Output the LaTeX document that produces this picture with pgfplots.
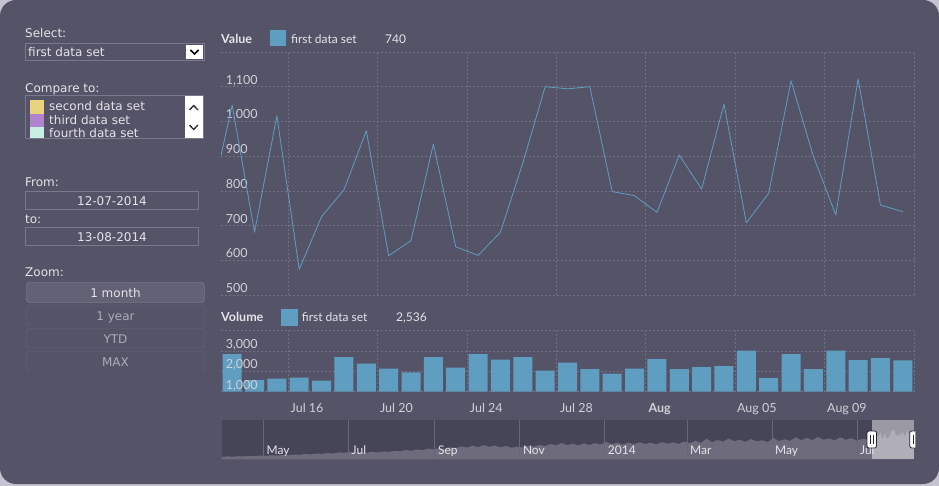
\documentclass[border=0pt]{standalone}
\usepackage{pgfplots}
\pgfplotsset{compat=1.18}
\usepackage{fontspec}
\setmainfont{DejaVu Sans}
\newfontfamily\lato{Lato}
\definecolor{outer}{RGB}{196,195,207}
\definecolor{panel}{RGB}{85,83,103}
\definecolor{series}{RGB}{95,158,192}
\definecolor{gridc}{RGB}{114,112,132}
\definecolor{ticktext}{RGB}{208,208,215}
\definecolor{uitext}{RGB}{228,228,232}
\definecolor{boxline}{RGB}{122,120,140}
\definecolor{btnfill}{RGB}{99,97,117}
\definecolor{btnline}{RGB}{138,136,153}
\definecolor{btnfaint}{RGB}{102,100,120}
\definecolor{btntext}{RGB}{172,172,182}
\definecolor{navbg}{RGB}{70,68,87}
\definecolor{navarea}{RGB}{110,108,124}
\definecolor{navline}{RGB}{104,102,122}
\definecolor{cyellow}{RGB}{234,211,125}
\definecolor{cpurple}{RGB}{178,132,206}
\definecolor{cmint}{RGB}{200,240,226}
\definecolor{handle}{RGB}{40,40,50}

\pgfplotsset{
  chartaxis/.style={
    scale only axis, anchor=south west,
    axis line style={draw=none},
    major tick length=0pt,
    xmajorgrids, ymajorgrids,
    grid style={gridc, dash pattern=on 2pt off 2pt, line width=0.6pt},
    xmin=-0.5, xmax=30.5,
    xtick={2.5,6.5,10.5,14.5,18.5,22.5,26.5,30.5}, xticklabels={},
    yticklabel style={anchor=base west, inner sep=0pt, xshift=4.7pt, yshift=2.5pt,
      font=\lato\fontsize{12.5}{13}\selectfont, text=ticktext},
  },
}

\pgfplotstableread{
x y
-1 757
0 1047
1 681
2 1016
3 574
4 726
5 803
6 973
7 613
8 657
9 935
10 639
11 614
12 681
13 880
14 1100
15 1094
16 1100
17 798
18 786
19 738
20 903
21 805
22 1050
23 708
24 793
25 1117
26 899
27 731
28 1122
29 759
30 740
}\valuedata

\pgfplotstableread{
x y
0 2854
1 1575
2 1640
3 1689
4 1541
5 2705
6 2377
7 2131
8 1951
9 2705
10 2180
11 2854
12 2574
13 2705
14 2033
15 2426
16 2115
17 1885
18 2131
19 2607
20 2115
21 2213
22 2262
23 3017
24 1672
25 2854
26 2115
27 3017
28 2557
29 2656
30 2536
}\volumedata

\pgfplotstableread{
x y
0 2.4
4 2.9
8 2.6
12 3.1
16 2.8
20 3.4
24 3.0
28 3.8
32 3.5
36 4.1
40 3.7
44 4.4
48 4.0
52 4.8
56 4.5
60 5.3
64 4.9
68 5.8
72 5.4
76 6.2
80 5.8
84 6.9
88 6.5
92 7.4
96 6.8
100 7.2
104 6.6
108 7.5
112 6.9
116 7.8
120 7.4
124 8.4
128 7.9
132 9.2
136 8.5
140 9.8
144 9.1
148 10.6
152 9.9
156 11.2
160 10.4
164 12.0
168 11.1
172 12.9
176 11.6
180 13.6
184 12.2
188 14.1
192 12.5
196 13.7
200 11.9
204 13.3
208 11.6
212 12.4
216 11.8
220 13.5
224 12.6
228 14.3
232 13.2
236 15.4
240 13.9
244 16.2
248 14.1
252 15.6
256 13.8
260 15.9
264 14.2
268 16.3
272 14.6
276 17.4
280 15.0
284 16.5
288 14.7
292 16.8
296 15.1
300 17.0
304 15.3
308 16.6
312 14.9
316 17.2
320 15.6
324 16.9
328 15.4
332 17.8
336 16.0
340 18.6
344 16.4
348 20.5
352 17.1
356 19.3
360 17.6
364 20.8
368 18.0
372 19.6
376 17.5
380 20.2
384 17.9
388 19.0
392 17.2
396 21.3
400 18.1
404 20.0
408 18.4
412 22.0
416 19.2
420 21.4
424 19.0
428 22.3
432 19.6
436 20.8
440 18.9
444 22.0
448 19.4
452 21.2
456 18.6
460 20.4
464 19.8
466.1 23.4
467.1 28.2
468.1 22.2
469.0 27.7
470.0 20.4
471.0 22.9
472.0 24.2
473.0 27.0
474.0 21.1
475.0 21.8
476.0 26.3
477.0 21.5
478.0 21.1
479.0 22.2
480.0 25.4
481.0 29.0
482.0 28.9
483.0 29.0
483.9 24.1
484.9 23.9
485.9 23.1
486.9 25.8
487.9 24.2
488.9 28.2
489.9 22.6
490.9 24.0
491.9 29.3
492.9 25.7
493.9 23.0
494.9 29.4
495.9 23.4
496.9 23.1
}\navdata

\begin{document}
\begin{tikzpicture}
% panel
\begin{scope}[x=1pt,y=-1pt]
\fill[outer] (0,0) rectangle (939,486);
\fill[panel, rounded corners=16pt] (0,0) rectangle (939,484);
\end{scope}

% value chart
\begin{axis}[chartaxis, at={(221pt,-295pt)}, width=693pt, height=243pt,
  ymin=500, ymax=1200, ytick={500,600,700,800,900,1000,1100,1200},
  yticklabels={500,600,700,800,900,{1,000},{1,100},{}}]
\addplot[series, line width=0.8pt, line join=round] table[x=x,y=y] {\valuedata};
\end{axis}

% volume chart (grid + bars)
\begin{axis}[chartaxis, at={(221pt,-391.7pt)}, width=693pt, height=61pt,
  ymin=1000, ymax=4000, ytick={1000,2000,3000,4000},
  yticklabels={},
  extra x ticks={3.35,7.35,11.37,15.4,19.12,23.47,27.5},
  extra x tick labels={Jul 16,Jul 20,Jul 24,Jul 28,\textbf{Aug},Aug 05,Aug 09},
  extra x tick style={grid=none},
  xticklabel style={anchor=base, inner sep=0pt, yshift=-20.3pt,
      font=\lato\fontsize{12.5}{13}\selectfont, text=ticktext}]
\addplot[ybar, bar width=0.85, bar shift=0pt, fill=series, draw=none] table[x=x,y=y] {\volumedata};
\end{axis}
% volume chart y labels drawn over the bars
\begin{axis}[chartaxis, at={(221pt,-391.7pt)}, width=693pt, height=61pt,
  xmajorgrids=false, ymajorgrids=false, xtick=\empty,
  ymin=1000, ymax=4000, ytick={1000,2000,3000,4000},
  yticklabels={{1,000},{2,000},{3,000},{}}]
\addplot[draw=none] coordinates {(0,1000)};
\end{axis}

% navigator
\begin{axis}[at={(221.7pt,-459.3pt)}, anchor=south west, scale only axis,
  width=692.3pt, height=39.3pt, xmin=0, xmax=497, ymin=0, ymax=39.3,
  axis line style={draw=none}, major tick length=0pt, ytick=\empty,
  axis background/.style={fill=navbg},
  axis on top,
  xtick={30,91,153,214,275,334,395,456},
  xticklabels={May,Jul,Sep,Nov,2014,Mar,May,Jul},
  xmajorgrids, grid style={navline, line width=0.8pt},
  xticklabel style={anchor=base west, inner sep=0pt, xshift=3pt, yshift=5pt,
     font=\lato\fontsize{12}{13}\selectfont, text=uitext}]
\addplot[fill=navarea, draw=none] table[x=x,y=y] {\navdata} \closedcycle;
\addplot[fill=white, fill opacity=0.46, draw=none] coordinates {(466.6,0) (497,0) (497,39.3) (466.6,39.3)} -- cycle;
\end{axis}

\begin{scope}[x=1pt,y=-1pt, every node/.style={inner sep=0pt, text=uitext, font=\fontsize{12}{14}\selectfont}]
% handles
\draw[fill=white, draw=handle, line width=0.8pt, rounded corners=2pt] (867,431) rectangle (876.5,448);
\draw[handle, line width=0.8pt] (870.3,435) -- (870.3,444) (873.3,435) -- (873.3,444);
\begin{scope}
\clip (900,420) rectangle (915.3,460);
\draw[fill=white, draw=handle, line width=0.8pt, rounded corners=2pt] (909.8,431) rectangle (919.3,448);
\draw[handle, line width=0.8pt] (913.1,435) -- (913.1,444);
\end{scope}

% legends
\fill[series] (269.5,30) rectangle (286,46);
\node[anchor=base west, font=\lato\bfseries\fontsize{12.5}{14}\selectfont] at (221,43.3) {Value};
\node[anchor=base west, font=\lato\fontsize{12}{14}\selectfont] at (291,43.3) {first data set};
\node[anchor=base west, font=\lato\fontsize{12}{14}\selectfont] at (385,43.3) {740};
\fill[series] (281,308.5) rectangle (297.5,325.5);
\node[anchor=base west, font=\lato\bfseries\fontsize{12.5}{14}\selectfont] at (221,321.7) {Volume};
\node[anchor=base west, font=\lato\fontsize{12}{14}\selectfont] at (301.7,321.7) {first data set};
\node[anchor=base west, font=\lato\fontsize{12}{14}\selectfont] at (396,321.7) {2,536};

% left form
\node[anchor=base west] at (25,38) {Select:};
\draw[boxline] (25.5,43.5) rectangle (204,60.5);
\node[anchor=base west] at (28,56.5) {first data set};
\fill[white] (186,45) rectangle (203,59);
\draw[black, line width=1.5pt] (190.5,50) -- (194.5,54) -- (198.5,50);

\node[anchor=base west] at (25,92.3) {Compare to:};
\draw[boxline] (25.5,95.5) rectangle (203,138.5);
\begin{scope}
\clip (26,96) rectangle (202.5,138);
\fill[cyellow] (30,100) rectangle (44,113.7);
\fill[cpurple] (30,113.7) rectangle (44,127);
\fill[cmint] (30,127) rectangle (44,140);
\node[anchor=base west] at (49,111) {second data set};
\node[anchor=base west] at (49,124.3) {third data set};
\node[anchor=base west] at (49,137.7) {fourth data set};
\end{scope}
\fill[white] (185,96) rectangle (202.5,138);
\draw[handle, line width=1.3pt] (189.5,110) -- (193.7,105.5) -- (197.9,110);
\draw[handle, line width=1.3pt] (189.5,125) -- (193.7,129.5) -- (197.9,125);

\node[anchor=base west] at (25,186.7) {From:};
\draw[boxline] (25.5,191.5) rectangle (198.5,209);
\node[anchor=base] at (112,205.7) {12-07-2014};
\node[anchor=base west] at (25,223.3) {to:};
\draw[boxline] (25.5,227.5) rectangle (198.5,245.5);
\node[anchor=base] at (112,241.7) {13-08-2014};

\node[anchor=base west] at (25,276.7) {Zoom:};
\draw[btnline, fill=btnfill, rounded corners=3pt] (26.5,282.5) rectangle (204.5,302.5);
\node[anchor=base] at (115.5,297.3) {1 month};
\draw[btnfaint, rounded corners=3pt] (26.5,305.5) rectangle (204.5,325);
\node[anchor=base, text=btntext] at (115.5,320) {1 year};
\draw[btnfaint, rounded corners=3pt] (26.5,328.5) rectangle (204.5,348);
\node[anchor=base, text=btntext] at (115.5,343.3) {YTD};
\draw[btnfaint, rounded corners=3pt] (26.5,351.5) rectangle (204.5,371);
\node[anchor=base, text=btntext] at (115.5,366) {MAX};
\end{scope}
\end{tikzpicture}
\end{document}
